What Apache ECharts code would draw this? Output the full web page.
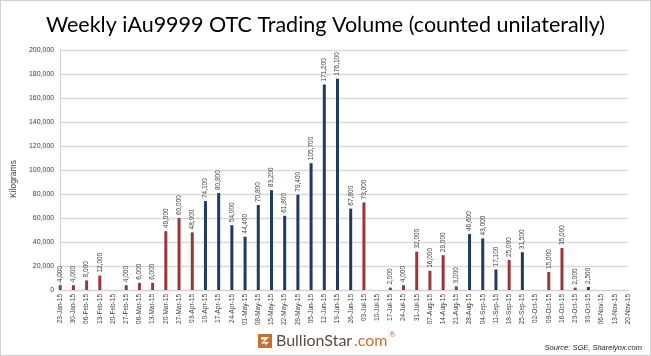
<!DOCTYPE html>
<html>
<head>
<meta charset="utf-8">
<script src="https://cdn.jsdelivr.net/npm/echarts@6/dist/echarts.min.js"></script>
<style>
html,body{margin:0;padding:0;background:#fff;}
#wrap{position:absolute;left:0;top:0;width:649px;height:354px;border:1px solid #d0d0d0;}
#c{width:649px;height:354px;}
</style>
</head>
<body>
<div id="wrap"><div id="c"></div></div>
<script>
const categories = ['23-Jan-15','30-Jan-15','06-Feb-15','13-Feb-15','20-Feb-15','27-Feb-15','06-Mar-15','13-Mar-15','20-Mar-15','27-Mar-15','03-Apr-15','10-Apr-15','17-Apr-15','24-Apr-15','01-May-15','08-May-15','15-May-15','22-May-15','29-May-15','05-Jun-15','12-Jun-15','19-Jun-15','26-Jun-15','03-Jul-15','10-Jul-15','17-Jul-15','24-Jul-15','31-Jul-15','07-Aug-15','14-Aug-15','21-Aug-15','28-Aug-15','04-Sep-15','11-Sep-15','18-Sep-15','25-Sep-15','02-Oct-15','09-Oct-15','16-Oct-15','23-Oct-15','30-Oct-15','06-Nov-15','13-Nov-15','20-Nov-15'];
const redValues = [4000,4000,8000,12000,null,4000,6000,6000,49000,60000,48000,null,null,null,null,null,null,null,null,null,null,null,null,73000,null,2000,4000,32000,16000,29000,3000,null,null,null,25000,null,null,15000,35000,2000,null,null,null,null];
const blueValues = [null,null,null,null,null,null,null,null,null,null,null,74100,80800,54000,44400,70800,83200,61800,79400,105700,171200,176100,67800,null,null,null,null,null,null,null,null,46600,43000,17100,null,31500,null,null,null,null,2500,null,null,null];
const yTicks = {min:0, max:200000, interval:20000};

const fmt = v => Number(v).toLocaleString('en-US');
const chart = echarts.init(document.getElementById('c'), null, {renderer:'canvas'});
const labelCfg = {
  show:true, position:'top', rotate:90, align:'left', verticalAlign:'middle', distance:3,
  fontSize:6.5, color:'#404040', fontFamily:'Liberation Sans',
  formatter: p => p.value == null ? '' : fmt(p.value)
};
chart.setOption({
  animation:false,
  title:{text:'Weekly iAu9999 OTC Trading Volume (counted unilaterally)', left:'center', top:8,
    textStyle:{fontFamily:'Lato', fontWeight:'normal', fontSize:21.5, color:'#000'}},
  grid:{left:54, right:22, top:49, bottom:65},
  xAxis:{type:'category', data:categories, boundaryGap:false,
    axisLine:{lineStyle:{color:'#d0d0d0', width:1}}, axisTick:{show:false},
    axisLabel:{rotate:90, interval:0, fontSize:6.5, color:'#404040', fontFamily:'Liberation Sans', margin:4}},
  yAxis:{type:'value', min:yTicks.min, max:yTicks.max, interval:yTicks.interval,
    name:'Kilograms', nameLocation:'middle', nameGap:40, nameRotate:90,
    nameTextStyle:{fontSize:8.5, color:'#404040', fontFamily:'Liberation Sans', padding:[0,0,0,-18]},
    axisLine:{show:true, lineStyle:{color:'#d0d0d0'}}, axisTick:{show:false},
    splitLine:{lineStyle:{color:'#d9d9d9', width:1.3}},
    axisLabel:{fontSize:7, color:'#404040', fontFamily:'Liberation Sans', margin:6, formatter:v=>fmt(v)}},
  series:[
    {type:'bar', name:'red', data:redValues, barWidth:3, barGap:'-100%', itemStyle:{color:'#9e3436'}, label:labelCfg},
    {type:'bar', name:'blue', data:blueValues, barWidth:3, barGap:'-100%', itemStyle:{color:'#1f3a63'}, label:labelCfg}
  ],
  graphic:[
    {type:'group', left:257, top:329, children:[
      {type:'rect', shape:{x:0,y:0,width:14,height:14}, style:{fill:'#c8702f'}},
      {type:'polygon', shape:{points:[[3,3],[11,3],[6,8],[11,8],[7,12],[8,9.5],[3,9.5],[7,5.5],[3,5.5]]}, style:{fill:'#fff'}},
      {type:'text', x:18, y:-1, style:{text:'BullionStar', fontSize:16, fontFamily:'Lato', fill:'#5b4b3f'}},
      {type:'text', x:96, y:-1, style:{text:'.com', fontSize:16, fontFamily:'Lato', fill:'#c8702f'}},
      {type:'text', x:131, y:-4, style:{text:'®', fontSize:8, fontFamily:'Lato', fill:'#c8702f'}}
    ]},
    {type:'text', right:8, top:343, style:{text:'Source: SGE, Sharelynx.com', fontSize:7.5, fontStyle:'italic', fontFamily:'Liberation Sans', fill:'#222'}}
  ]
});
</script>
</body>
</html>
